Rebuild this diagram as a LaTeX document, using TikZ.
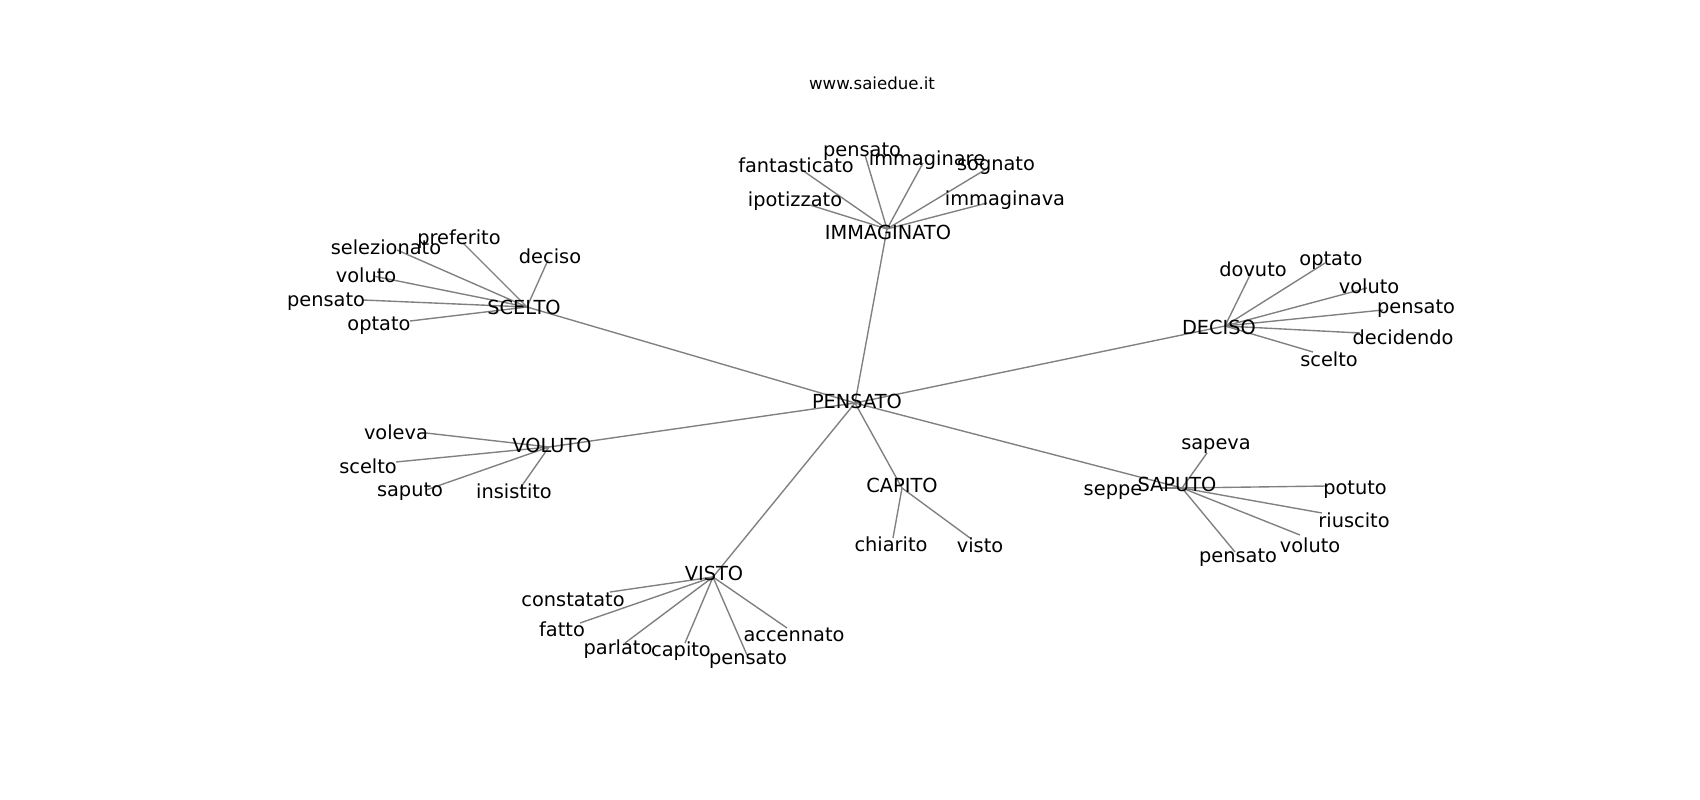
\documentclass[tikz,border=0pt]{standalone}
\usepackage{fontspec}
\setmainfont{DejaVu Sans}
\usetikzlibrary{positioning}
\definecolor{edgegray}{RGB}{128,128,128}

\begin{document}
\begin{tikzpicture}[
  x=0.254mm, y=-0.254mm,
  word/.style={inner sep=0pt, font=\fontsize{14}{16}\selectfont},
  leaf/.style={word, yshift=-1.8pt},
  title/.style={inner sep=0pt, font=\fontsize{12}{14}\selectfont},
  link/.style={draw=edgegray, line width=1pt}
]
\useasboundingbox (0,0) rectangle (1700,800);

% Hubs
\coordinate (pens) at (855,403);
\coordinate (imm) at (887,229);
\coordinate (scel) at (527,307);
\coordinate (dec) at (1225,326);
\coordinate (vol) at (549,447);
\coordinate (sap) at (1182,488);
\coordinate (vis) at (713,577);
\coordinate (cap) at (902,488);

% Leaves
\coordinate (imm1) at (865,155);
\coordinate (imm2) at (923,163);
\coordinate (imm3) at (988,168);
\coordinate (imm4) at (802,170);
\coordinate (imm5) at (810,205);
\coordinate (imm6) at (987,203);

\coordinate (sc1) at (397,250);
\coordinate (sc2) at (463,243);
\coordinate (sc3) at (548,260);
\coordinate (sc4) at (373,276);
\coordinate (sc5) at (363,300);
\coordinate (sc6) at (410,321);

\coordinate (d1) at (1251,273);
\coordinate (d2) at (1325,263);
\coordinate (d3) at (1367,288);
\coordinate (d4) at (1383,310);
\coordinate (d5) at (1360,333);
\coordinate (d6) at (1313,352);

\coordinate (sa1) at (1207,453);
\coordinate (sa2) at (1160,488);
\coordinate (sa3) at (1327,486);
\coordinate (sa4) at (1322,513);
\coordinate (sa5) at (1300,535);
\coordinate (sa6) at (1235,552);

\coordinate (vi1) at (610,592);
\coordinate (vi2) at (580,623);
\coordinate (vi3) at (625,643);
\coordinate (vi4) at (685,643);
\coordinate (vi5) at (747,655);
\coordinate (vi6) at (787,628);

\coordinate (vo1) at (426,433);
\coordinate (vo2) at (396,462);
\coordinate (vo3) at (426,490);
\coordinate (vo4) at (521,487);

\coordinate (ca1) at (893,538);
\coordinate (ca2) at (970,538);

% Connections
\foreach \h in {imm,scel,dec,vol,sap,vis,cap}
  \draw[link] (pens) -- (\h);
\foreach \i in {1,...,6}
  \draw[link] (imm) -- (imm\i);
\foreach \i in {1,...,6}
  \draw[link] (scel) -- (sc\i);
\foreach \i in {1,...,6}
  \draw[link] (dec) -- (d\i);
\foreach \i in {1,...,6}
  \draw[link] (sap) -- (sa\i);
\foreach \i in {1,...,6}
  \draw[link] (vis) -- (vi\i);
\foreach \i in {1,...,4}
  \draw[link] (vol) -- (vo\i);
\foreach \i in {1,2}
  \draw[link] (cap) -- (ca\i);

% Title
\node[title] (site) at (872,83) {www.saiedue.it};

% Hub labels
\node[word] (lpens) at (857,401) {PENSATO};
\node[word] (limm) at (888,232) {IMMAGINATO};
\node[word] (lscel) at (524,307) {SCELTO};
\node[word] (ldec) at (1219,327) {DECISO};
\node[word] (lvol) at (552,445) {VOLUTO};
\node[word] (lsap) at (1177,484) {SAPUTO};
\node[word] (lvis) at (714,573) {VISTO};
\node[word] (lcap) at (902,485) {CAPITO};

% Leaf labels
\node[leaf] (limm1) at (862,149) {pensato};
\node[leaf] (limm2) at (927,158) {immaginare};
\node[leaf] (limm3) at (996,163) {sognato};
\node[leaf] (limm4) at (796,163) {fantasticato};
\node[leaf] (limm5) at (795,199) {ipotizzato};
\node[leaf] (limm6) at (1005,198) {immaginava};

\node[leaf] (lsc1) at (386,245) {selezionato};
\node[leaf] (lsc2) at (459,237) {preferito};
\node[leaf] (lsc3) at (550,254) {deciso};
\node[leaf] (lsc4) at (366,273) {voluto};
\node[leaf] (lsc5) at (326,299) {pensato};
\node[leaf] (lsc6) at (379,323) {optato};

\node[leaf] (ld1) at (1253,267) {dovuto};
\node[leaf] (ld2) at (1331,258) {optato};
\node[leaf] (ld3) at (1369,284) {voluto};
\node[leaf] (ld4) at (1416,306) {pensato};
\node[leaf] (ld5) at (1403,335) {decidendo};
\node[leaf] (ld6) at (1329,357) {scelto};

\node[leaf] (lsa1) at (1216,444) {sapeva};
\node[leaf] (lsa2) at (1113,490) {seppe};
\node[leaf] (lsa3) at (1355,487) {potuto};
\node[leaf] (lsa4) at (1354,518) {riuscito};
\node[leaf] (lsa5) at (1310,543) {voluto};
\node[leaf] (lsa6) at (1238,555) {pensato};

\node[leaf] (lvi1) at (573,597) {constatato};
\node[leaf] (lvi2) at (562,627) {fatto};
\node[leaf] (lvi3) at (618,647) {parlato};
\node[leaf] (lvi4) at (681,649) {capito};
\node[leaf] (lvi5) at (748,657) {pensato};
\node[leaf] (lvi6) at (794,632) {accennato};

\node[leaf] (lvo1) at (396,430) {voleva};
\node[leaf] (lvo2) at (368,464) {scelto};
\node[leaf] (lvo3) at (410,489) {saputo};
\node[leaf] (lvo4) at (514,489) {insistito};

\node[leaf] (lca1) at (891,542) {chiarito};
\node[leaf] (lca2) at (980,543) {visto};

\end{tikzpicture}
\end{document}
